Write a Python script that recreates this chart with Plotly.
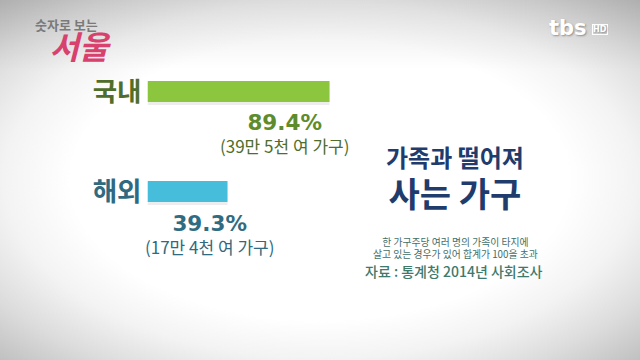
import plotly.graph_objects as go

# ---- data ----
categories = ["국내", "해외"]
values = [89.4, 39.3]
value_labels = ["89.4%", "39.3%"]
sub_labels = ["(39만 5천 여 가구)", "(17만 4천 여 가구)"]
bar_colors = ["#8cc63f", "#45bddb"]
label_colors = ["#4f6e2c", "#2f6a80"]
value_colors = ["#5e8c2c", "#2f6c82"]
sub_colors = ["#4f6e2c", "#2f6a80"]
title_lines = ["가족과 떨어져", "사는 가구"]
note_lines = ["한 가구주당 여러 명의 가족이 타지에", "살고 있는 경우가 있어 합계가 100을 초과"]
source_text = "자료 : 통계청 2014년 사회조사"
logo_lines = ["숫자로 보는", "서울"]
brand = ["tbs", "HD"]

W, H = 640, 360
KR = "Noto Sans CJK KR"

fig = go.Figure()

# background vignette (layout canvas in pixel units; polygon larger than view so corners sit at r=1)
fig.add_trace(go.Scatter(
    x=[-132, 772, 772, -132, -132], y=[-75, -75, 435, 435, -75], mode="lines", fill="toself",
    line=dict(width=0), hoverinfo="skip", showlegend=False,
    fillgradient=dict(type="radial",
                      colorscale=[[0, "#ffffff"], [0.55, "#ffffff"], [0.7, "#f3f3f3"],
                                  [0.85, "#dcdcdc"], [1, "#c0c0c0"]]),
    xaxis="x", yaxis="y"))
# slightly darker top band
fig.add_trace(go.Scatter(
    x=[0, W, W, 0, 0], y=[0, 0, 70, 70, 0], mode="lines", fill="toself",
    line=dict(width=0), hoverinfo="skip", showlegend=False,
    fillgradient=dict(type="vertical",
                      colorscale=[[0, "rgba(0,0,0,0)"], [1, "rgba(0,0,0,0.09)"]]),
    xaxis="x", yaxis="y"))

# bar shadows
fig.add_trace(go.Bar(
    y=categories, x=values, orientation="h", width=0.22, offset=-0.085,
    marker=dict(color="rgba(0,0,0,0.07)", line=dict(width=0)),
    hoverinfo="skip", showlegend=False, xaxis="x2", yaxis="y2"))
# bars
fig.add_trace(go.Bar(
    y=categories, x=values, orientation="h", width=0.21,
    marker=dict(color=bar_colors, line=dict(width=0)),
    hoverinfo="skip", showlegend=False, xaxis="x2", yaxis="y2"))

ticktext = [f'<span style="color:{c}">{t}</span>' for t, c in zip(categories, label_colors)]

annotations = []
lab_shift = [(-45.5, -42.5), (-18.5, -43.5)]
for i in range(len(categories)):
    annotations.append(dict(
        x=values[i], y=categories[i], xref="x2", yref="y2",
        text=(f'<span style="font-family:\'DejaVu Sans\';font-weight:bold;font-size:21.5px;'
              f'color:{value_colors[i]}">{value_labels[i]}</span><br>'
              f'<span style="font-size:17px">{sub_labels[i]}</span>'),
        showarrow=False, xanchor="center", yanchor="middle", align="center",
        xshift=lab_shift[i][0], yshift=lab_shift[i][1],
        font=dict(family=KR, size=17.5, color=sub_colors[i])))

# title block (two lines in one text)
annotations += [
    dict(x=455, y=177.5, xref="x", yref="y",
         text=(f'<span style="font-size:24px">{title_lines[0]}</span><br>'
               f'<span style="font-size:34px">{title_lines[1]}</span>'),
         showarrow=False, align="center",
         font=dict(family=KR, size=31, color="#1f3c6d", weight="bold")),
    dict(x=455.5, y=248, xref="x", yref="y",
         text=(f'<span style="font-size:9.8px">{note_lines[0]}</span><br>'
               f'<span style="font-size:9.8px">{note_lines[1]}</span>'),
         showarrow=False, align="center",
         font=dict(family=KR, size=9.3, color="#3f6f6a")),
    dict(x=454, y=271, xref="x", yref="y", text=source_text, showarrow=False,
         font=dict(family=KR, size=14, color="#3d7a6c", weight=500)),
    # logo
    dict(x=33, y=41, xref="x", yref="y", xanchor="left", align="left",
         text=(f'<span style="font-size:13px;color:#7a7a7a">{logo_lines[0]}</span><br>'
               f'<span style="font-size:32px;color:#d8406e">&nbsp;&nbsp;<i>{logo_lines[1]}</i></span>'),
         showarrow=False,
         font=dict(family=KR, size=22, color="#7a7a7a", weight="bold")),
    # broadcaster mark
    dict(x=568, y=28, xref="x", yref="y", text=brand[0], showarrow=False,
         font=dict(family="DejaVu Sans", size=21, color="#ffffff", weight="bold",
                   shadow="1px 1px 2px rgba(0,0,0,0.35)")),
    dict(x=600, y=29, xref="x", yref="y", text=brand[1], showarrow=False,
         bordercolor="#ffffff", borderwidth=1, borderpad=0,
         font=dict(family="DejaVu Sans", size=8, color="#ffffff", weight="bold",
                   shadow="1px 1px 2px rgba(0,0,0,0.35)")),
]

y2_top, y2_bot = 41.5, 241.5
fig.update_layout(
    width=W, height=H, margin=dict(l=0, r=0, t=0, b=0),
    paper_bgcolor="#ffffff", plot_bgcolor="rgba(0,0,0,0)",
    barmode="overlay", showlegend=False,
    xaxis=dict(range=[0, W], domain=[0, 1], visible=False, fixedrange=True),
    yaxis=dict(range=[H, 0], domain=[0, 1], visible=False, fixedrange=True),
    xaxis2=dict(range=[0, 100], domain=[147.5 / W, (147.5 + 203.6) / W], anchor="y2",
                visible=False, fixedrange=True),
    yaxis2=dict(domain=[1 - y2_bot / H, 1 - y2_top / H], anchor="x2",
                range=[1.5, -0.5], type="category",
                tickmode="array", tickvals=categories, ticktext=ticktext,
                showgrid=False, zeroline=False, showline=False, ticks="",
                ticklabelstandoff=5,
                tickfont=dict(family=KR, size=26.5, weight="bold")),
    annotations=annotations,
)

fig.write_html("out.html", config={"displayModeBar": False},
               post_script="document.body.style.margin='0';document.body.style.overflow='hidden';")
